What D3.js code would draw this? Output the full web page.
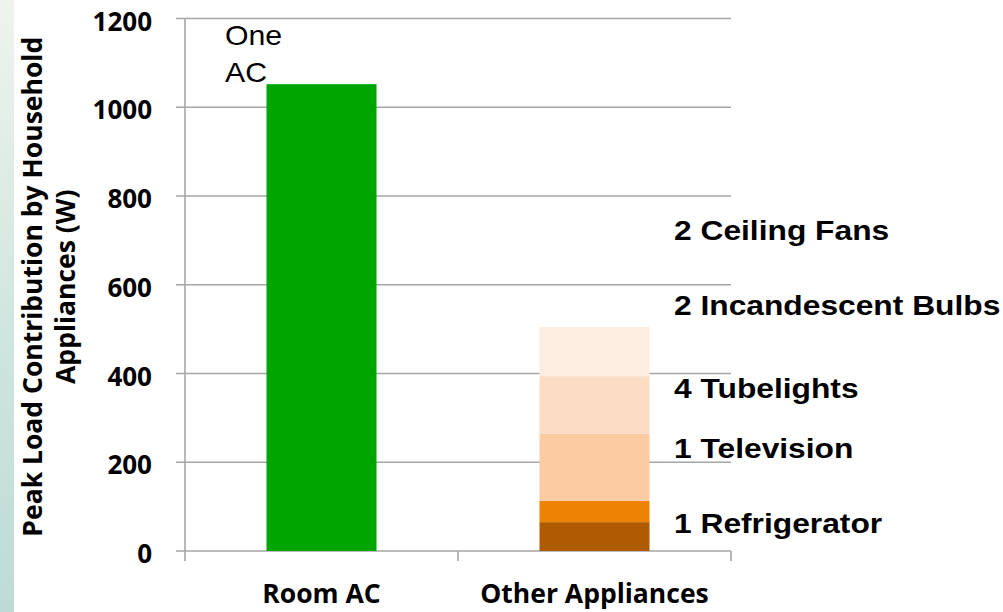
<!DOCTYPE html>
<html>
<head>
<meta charset="utf-8">
<script src="https://cdn.jsdelivr.net/npm/d3@7"></script>
<style>
  html, body { margin: 0; padding: 0; background: #ffffff; }
  svg { display: block; }
</style>
</head>
<body>
<svg id="chart" width="1003" height="612"></svg>
<script>
// Peak load (W) drawn by household appliances
const categories = ["Room AC", "Other Appliances"];
const roomAC = [{ name: "One AC", value: 1052 }];
const applianceNames = ["1 Refrigerator", "1 Television", "4 Tubelights", "2 Incandescent Bulbs", "2 Ceiling Fans"];
const applianceValues = [65, 48, 151, 130, 111];
const applianceColors = ["#ae5b02", "#ee8204", "#fbcba2", "#fcddc4", "#fdede1"];
const yTicks = [0, 200, 400, 600, 800, 1000, 1200];

const svg = d3.select("#chart");
const W = 1003, H = 612;
const plot = { left: 185, right: 731, top: 18.5, bottom: 551 };

// side strip
const defs = svg.append("defs");
const grad = defs.append("linearGradient").attr("id", "strip")
  .attr("x1", 0).attr("y1", 0).attr("x2", 0).attr("y2", 1);
grad.append("stop").attr("offset", "0%").attr("stop-color", "#eef4ec");
grad.append("stop").attr("offset", "55%").attr("stop-color", "#cfe5df");
grad.append("stop").attr("offset", "100%").attr("stop-color", "#bddbd5");
svg.append("rect").attr("x", 0).attr("y", 0).attr("width", 14).attr("height", H)
  .attr("fill", "url(#strip)");

const y = d3.scaleLinear().domain([0, 1200]).range([plot.bottom, plot.top]);
const x = d3.scaleBand().domain(categories).range([plot.left, plot.right])
  .paddingInner(0.597).paddingOuter(0.2985);
const step = x.step();

// gridlines
const gridColor = "#a6a6a6";
svg.append("g").selectAll("line").data(yTicks).join("line")
  .attr("x1", plot.left - 9).attr("x2", plot.right)
  .attr("y1", d => y(d)).attr("y2", d => y(d))
  .attr("stroke", gridColor).attr("stroke-width", 1.6);

// y axis line
svg.append("line").attr("x1", plot.left).attr("x2", plot.left)
  .attr("y1", y(1200)).attr("y2", y(0))
  .attr("stroke", gridColor).attr("stroke-width", 1.6);

// category boundary ticks on x axis
const bounds = d3.range(categories.length + 1).map(i => plot.left + i * step);
svg.append("g").selectAll("line").data(bounds).join("line")
  .attr("x1", d => d).attr("x2", d => d)
  .attr("y1", y(0)).attr("y2", y(0) + 10)
  .attr("stroke", gridColor).attr("stroke-width", 1.6);

// y tick labels
svg.append("g").selectAll("text").data(yTicks).join("text")
  .attr("x", 152).attr("y", d => y(d) + 3)
  .attr("dy", "0.35em")
  .attr("text-anchor", "end")
  .attr("font-family", "'Open Sans', sans-serif")
  .attr("font-weight", 700).attr("font-size", 26)
  .attr("fill", "#000").text(d => d);

// category labels
svg.append("g").selectAll("text").data(categories).join("text")
  .attr("x", d => x(d) + x.bandwidth() / 2).attr("y", 603)
  .attr("text-anchor", "middle")
  .attr("font-family", "'Open Sans', sans-serif")
  .attr("font-weight", 700).attr("font-size", 26.5)
  .attr("fill", "#000").text(d => d);

// y axis title
const title = svg.append("text")
  .attr("transform", `translate(0, ${(plot.top + plot.bottom) / 2 + 2}) rotate(-90)`)
  .attr("text-anchor", "middle")
  .attr("font-family", "'Open Sans', sans-serif")
  .attr("font-weight", 700).attr("font-size", 26.5)
  .attr("fill", "#000");
title.append("tspan").attr("x", 0).attr("y", 42).text("Peak Load Contribution by Household");
title.append("tspan").attr("x", 0).attr("y", 75).text("Appliances (W)");

// room AC bar
svg.append("g").selectAll("rect").data(roomAC).join("rect")
  .attr("x", x("Room AC")).attr("width", x.bandwidth())
  .attr("y", d => y(d.value)).attr("height", d => y(0) - y(d.value))
  .attr("fill", "#00a500");

// stacked appliances bar
const stackRow = {};
applianceNames.forEach((n, i) => { stackRow[n] = applianceValues[i]; });
const series = d3.stack().keys(applianceNames)([stackRow]);
svg.append("g").selectAll("rect").data(series).join("rect")
  .attr("x", x("Other Appliances")).attr("width", x.bandwidth())
  .attr("y", d => y(d[0][1])).attr("height", d => y(d[0][0]) - y(d[0][1]))
  .attr("fill", (d, i) => applianceColors[i]);

// "One AC" note (slightly wide lettering)
const note = svg.append("g").attr("transform", "translate(225,0) scale(1.1,1)")
  .append("text")
  .attr("font-family", "'Liberation Sans', Arial, sans-serif")
  .attr("font-size", 27.5).attr("fill", "#000");
note.append("tspan").attr("x", 0).attr("y", 45).text("One");
note.append("tspan").attr("x", 0).attr("y", 82).text("AC");

// appliance labels beside the stack (wide lettering)
const labelBaselines = [533, 458, 398, 315, 240];
svg.append("g").attr("transform", "translate(674,0) scale(1.155,1)")
  .selectAll("text").data(applianceNames).join("text")
  .attr("x", 0).attr("y", (d, i) => labelBaselines[i])
  .attr("font-family", "'Liberation Sans', Arial, sans-serif")
  .attr("font-weight", 700).attr("font-size", 27.5)
  .attr("fill", "#000").text(d => d);
</script>
</body>
</html>
